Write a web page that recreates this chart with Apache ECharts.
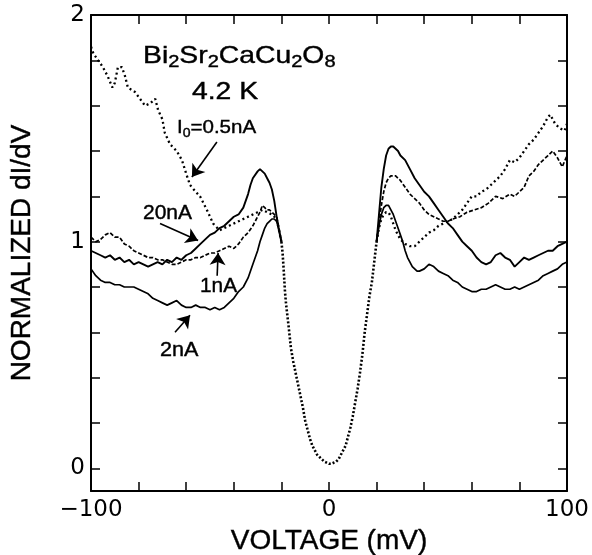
<!DOCTYPE html>
<html>
<head>
<meta charset="utf-8">
<script src="https://cdn.jsdelivr.net/npm/echarts@6/dist/echarts.min.js"></script>
<style>
  html, body { margin: 0; padding: 0; background: #fff; }
  #chart { width: 592px; height: 555px; }
</style>
</head>
<body>
<div id="chart"></div>
<script>
// tick positions / labels
var xTicks = [-100, 0, 100];
var yTicks = [0, 0.2, 0.4, 0.6, 0.8, 1.0, 1.2, 1.4, 1.6, 1.8, 2.0];
var yLabels = [0, 1, 2];

// central gap region, where all curves fall on top of each other
var core = [[-20,1.0],[-19.5,0.95],[-19,0.87],[-18.5,0.78],[-18,0.72],[-17,0.63],[-16,0.53],[-15,0.47],[-14,0.42],[-13,0.37],[-12,0.32],[-11,0.27],[-10,0.21],[-9,0.17],[-8,0.13],[-7,0.10],[-6,0.08],[-5,0.06],[-4,0.05],[-3,0.04],[-2,0.03],[-1,0.025],[0,0.02],[1,0.02],[2,0.025],[3,0.03],[4,0.04],[5,0.06],[6,0.08],[7,0.10],[8,0.14],[9,0.18],[10,0.23],[11,0.29],[12,0.35],[13,0.42],[14,0.50],[15,0.60],[16,0.68],[17,0.76],[18,0.82],[19,0.91],[20,1.0]];

// I0 = 20nA (solid)
var left20 = [[-100,0.96],[-98,0.95],[-96,0.94],[-94,0.93],[-92,0.94],[-90,0.92],[-88,0.93],[-86,0.91],[-84,0.92],[-82,0.90],[-80,0.91],[-78,0.90],[-76,0.89],[-74,0.90],[-72,0.91],[-70,0.90],[-68,0.92],[-66,0.91],[-64,0.93],[-62,0.92],[-60,0.94],[-58,0.95],[-56,0.97],[-54,0.99],[-52,1.01],[-50,1.03],[-48,1.04],[-46,1.06],[-44,1.07],[-42,1.09],[-40,1.11],[-38,1.12],[-36,1.15],[-34,1.21],[-33,1.25],[-32,1.28],[-30,1.31],[-29,1.32],[-28,1.31],[-27,1.30],[-26,1.28],[-25,1.26],[-24,1.23],[-23,1.18],[-22,1.11],[-21,1.05],[-20,1.0]];
var right20 = [[20,1.0],[21,1.12],[22,1.24],[23,1.32],[24,1.38],[25,1.41],[26,1.42],[27,1.42],[28,1.41],[29,1.40],[30,1.38],[32,1.36],[34,1.32],[36,1.28],[38,1.25],[40,1.22],[42,1.20],[44,1.17],[46,1.14],[48,1.11],[50,1.08],[52,1.06],[54,1.03],[56,1.00],[58,0.98],[60,0.96],[62,0.93],[64,0.91],[66,0.90],[68,0.91],[70,0.94],[72,0.95],[74,0.93],[76,0.92],[78,0.89],[80,0.91],[82,0.93],[84,0.92],[86,0.93],[88,0.94],[90,0.95],[92,0.96],[94,0.96],[96,0.98],[98,0.99],[100,1.0]];

// I0 = 2nA (solid)
var left2 = [[-100,0.88],[-98,0.85],[-96,0.83],[-94,0.82],[-92,0.82],[-90,0.81],[-88,0.81],[-86,0.80],[-84,0.80],[-82,0.80],[-80,0.79],[-78,0.78],[-76,0.77],[-74,0.75],[-72,0.74],[-70,0.73],[-68,0.72],[-66,0.73],[-64,0.74],[-62,0.72],[-60,0.71],[-58,0.71],[-56,0.72],[-54,0.71],[-52,0.71],[-50,0.70],[-48,0.71],[-46,0.70],[-44,0.71],[-42,0.73],[-40,0.75],[-38,0.78],[-36,0.80],[-34,0.84],[-32,0.90],[-30,0.96],[-29,1.00],[-28,1.03],[-27,1.06],[-26,1.08],[-25,1.09],[-24,1.10],[-23,1.10],[-22,1.09],[-21,1.05],[-20,1.0]];
var right2 = [[20,1.0],[21,1.07],[22,1.12],[23,1.15],[24,1.16],[25,1.16],[26,1.14],[27,1.12],[28,1.09],[29,1.06],[30,1.03],[31,1.0],[32,0.96],[33,0.93],[34,0.91],[35,0.89],[36,0.88],[37,0.87],[38,0.87],[40,0.88],[42,0.90],[44,0.89],[46,0.87],[48,0.86],[50,0.85],[52,0.83],[54,0.82],[56,0.80],[58,0.79],[60,0.78],[62,0.78],[64,0.79],[66,0.79],[68,0.80],[70,0.81],[72,0.80],[74,0.79],[76,0.79],[78,0.80],[80,0.79],[82,0.80],[84,0.81],[86,0.82],[88,0.83],[90,0.85],[92,0.86],[94,0.87],[96,0.88],[98,0.90],[100,0.91]];

// I0 = 1nA (dashed)
var left1 = [[-100,1.02],[-98,1.00],[-96,1.01],[-94,1.03],[-92,1.04],[-90,1.02],[-88,1.02],[-86,0.99],[-84,0.98],[-82,0.96],[-80,0.95],[-78,0.94],[-76,0.93],[-74,0.93],[-72,0.92],[-70,0.92],[-68,0.91],[-66,0.90],[-64,0.90],[-62,0.91],[-60,0.92],[-58,0.92],[-56,0.93],[-54,0.93],[-52,0.94],[-50,0.95],[-48,0.95],[-46,0.96],[-44,0.97],[-42,0.98],[-40,0.97],[-38,0.99],[-36,1.02],[-34,1.04],[-32,1.07],[-30,1.11],[-29,1.13],[-28,1.16],[-27,1.15],[-26,1.14],[-25,1.14],[-24,1.13],[-23,1.12],[-22,1.11],[-21,1.06],[-20,1.0]];
var right1 = [[20,1.0],[21,1.08],[22,1.16],[23,1.22],[24,1.26],[25,1.28],[26,1.29],[27,1.29],[28,1.29],[30,1.27],[32,1.24],[34,1.21],[36,1.19],[38,1.17],[40,1.14],[42,1.12],[44,1.11],[46,1.10],[48,1.09],[50,1.09],[52,1.10],[55,1.11],[58,1.13],[61,1.14],[64,1.15],[67,1.17],[70,1.20],[73,1.19],[76,1.21],[78,1.20],[80,1.22],[82,1.24],[84,1.29],[86,1.31],[88,1.34],[90,1.36],[92,1.38],[94,1.40],[96,1.37],[98,1.33],[100,1.38]];

// I0 = 0.5nA (dotted)
var left05 = [[-100,1.86],[-99,1.83],[-97,1.80],[-95,1.77],[-93,1.73],[-91,1.68],[-90,1.70],[-88.7,1.77],[-87,1.77],[-85.7,1.73],[-84.5,1.68],[-81.5,1.66],[-79.4,1.63],[-77.3,1.60],[-75.2,1.61],[-73,1.63],[-71.8,1.58],[-70,1.54],[-69,1.48],[-66.8,1.43],[-64,1.40],[-61.8,1.36],[-60,1.30],[-58.4,1.25],[-56,1.22],[-54.2,1.20],[-51.3,1.14],[-48.7,1.08],[-46,1.05],[-44,1.06],[-42,1.07],[-40,1.08],[-38,1.09],[-36,1.10],[-34,1.11],[-32,1.12],[-30,1.13],[-28,1.14],[-26,1.13],[-24,1.12],[-22,1.10],[-21,1.05],[-20,1.0]];
var right05 = [[20,1.0],[21,1.06],[22,1.10],[23,1.12],[24,1.13],[25,1.13],[26,1.11],[27,1.08],[28,1.05],[30,1.01],[32,0.99],[34,0.98],[36,0.98],[38,1.00],[40,1.02],[42,1.04],[44,1.05],[46,1.07],[48,1.08],[50,1.09],[52,1.10],[54,1.12],[56,1.14],[58,1.17],[60,1.20],[62,1.20],[64,1.22],[66,1.23],[68,1.25],[70,1.27],[72,1.29],[74,1.32],[76,1.36],[78,1.35],[80,1.37],[82,1.40],[84,1.43],[86,1.45],[88,1.48],[90,1.51],[92,1.55],[93,1.56],[95,1.52],[97,1.50],[99,1.49],[100,1.52]];

// arrows from the labels to their curves
var arrows = [
  [[-47.1, 1.44], [-57.6, 1.285]],
  [[-71, 1.08], [-55, 1.005]],
  [[-47, 0.85], [-46.6, 0.95]],
  [[-64.7, 0.60], [-58.4, 0.675]]
];

var FONT = 'Liberation Sans, Arial, Helvetica, sans-serif';
var TICKFONT = 'DejaVu Sans, Verdana, sans-serif';
var chart = echarts.init(document.getElementById('chart'));

function line(name, data, type, width) {
  return {
    name: name, type: 'line', data: data, showSymbol: false, silent: true,
    lineStyle: { color: '#000', width: width, type: type }
  };
}

var series = [
  line('20nA', left20, 'solid', 1.9),
  line('20nA', right20, 'solid', 1.9),
  line('2nA', left2, 'solid', 1.7),
  line('2nA', right2, 'solid', 1.7),
  line('1nA', left1, [4, 2], 1.7),
  line('1nA', right1, [4, 2], 1.7),
  line('0.5nA', left05, [2, 3], 2.3),
  line('0.5nA', right05, [2, 3], 2.3),
  line('core', core, [2, 2], 2.6)
];
series[0].markLine = {
  silent: true, symbol: ['none', 'arrow'], symbolSize: 12,
  label: { show: false },
  lineStyle: { color: '#000', width: 1.6, type: 'solid' },
  data: arrows.map(function (a) { return [{ coord: a[0] }, { coord: a[1] }]; })
};

var axisLineStyle = { show: true, onZero: false, lineStyle: { color: '#000', width: 2 } };
var tickStyle = { show: true, inside: true, length: 9, lineStyle: { color: '#000', width: 1.5 } };
var txt = { fill: '#000', stroke: '#000', lineWidth: 0.4, fontFamily: FONT };

chart.setOption({
  animation: false,
  backgroundColor: '#fff',
  textStyle: { fontFamily: FONT },
  grid: { left: 91, right: 25, top: 15, bottom: 64, containLabel: false, outerBoundsMode: 'none' },
  xAxis: [{
    type: 'value', min: -100, max: 100, interval: 20, position: 'bottom',
    axisLine: axisLineStyle, axisTick: tickStyle, splitLine: { show: false },
    axisLabel: {
      fontSize: 23, color: '#000', margin: 8, fontFamily: TICKFONT,
      formatter: function (v) {
        if (xTicks.indexOf(v) < 0) return '';
        return v < 0 ? '\u2212' + Math.abs(v) : String(v);
      }
    },
    name: 'VOLTAGE (mV)', nameLocation: 'middle', nameGap: 32,
    nameTextStyle: { fontSize: 28, color: '#000', fontFamily: FONT, textBorderColor: '#000', textBorderWidth: 0.4 }
  }, {
    type: 'value', min: -100, max: 100, interval: 20, position: 'top',
    axisLine: axisLineStyle, axisTick: tickStyle, splitLine: { show: false },
    axisLabel: { show: false }
  }],
  yAxis: [{
    type: 'value', min: -0.1, max: 2, position: 'left',
    axisLine: axisLineStyle,
    axisTick: Object.assign({ customValues: yTicks }, tickStyle),
    splitLine: { show: false },
    axisLabel: { customValues: yLabels, fontSize: 23, color: '#000', margin: 6, fontFamily: TICKFONT },
    name: 'NORMALIZED dI/dV', nameLocation: 'middle', nameGap: 55,
    nameTextStyle: { fontSize: 28, color: '#000', fontFamily: FONT, textBorderColor: '#000', textBorderWidth: 0.4 }
  }, {
    type: 'value', min: -0.1, max: 2, position: 'right',
    axisLine: axisLineStyle,
    axisTick: Object.assign({ customValues: yTicks }, tickStyle),
    splitLine: { show: false },
    axisLabel: { show: false }
  }],
  graphic: [
    {
      type: 'text', x: 143, y: 41, scaleX: 1.18,
      style: {
        text: '{n|Bi}{s|2}{n|Sr}{s|2}{n|CaCu}{s|2}{n|O}{s|8}',
        rich: {
          n: Object.assign({ fontSize: 24, lineHeight: 30, verticalAlign: 'middle' }, txt),
          s: Object.assign({ fontSize: 17, lineHeight: 16, verticalAlign: 'bottom' }, txt)
        }
      }
    },
    { type: 'text', x: 192, y: 80, scaleX: 1.18, style: Object.assign({ text: '4.2 K', fontSize: 24 }, txt) },
    {
      type: 'text', x: 177, y: 116, scaleX: 1.08,
      style: {
        text: '{n|I}{s|0}{n|=0.5nA}',
        rich: {
          n: Object.assign({ fontSize: 19, lineHeight: 24, verticalAlign: 'middle' }, txt),
          s: Object.assign({ fontSize: 13, lineHeight: 13, verticalAlign: 'bottom' }, txt)
        }
      }
    },
    { type: 'text', x: 143, y: 203, scaleX: 1.05, style: Object.assign({ text: '20nA', fontSize: 20 }, txt) },
    { type: 'text', x: 200, y: 276, scaleX: 1.04, style: Object.assign({ text: '1nA', fontSize: 20 }, txt) },
    { type: 'text', x: 160, y: 340, scaleX: 1.08, style: Object.assign({ text: '2nA', fontSize: 20 }, txt) }
  ],
  series: series
});
</script>
</body>
</html>
